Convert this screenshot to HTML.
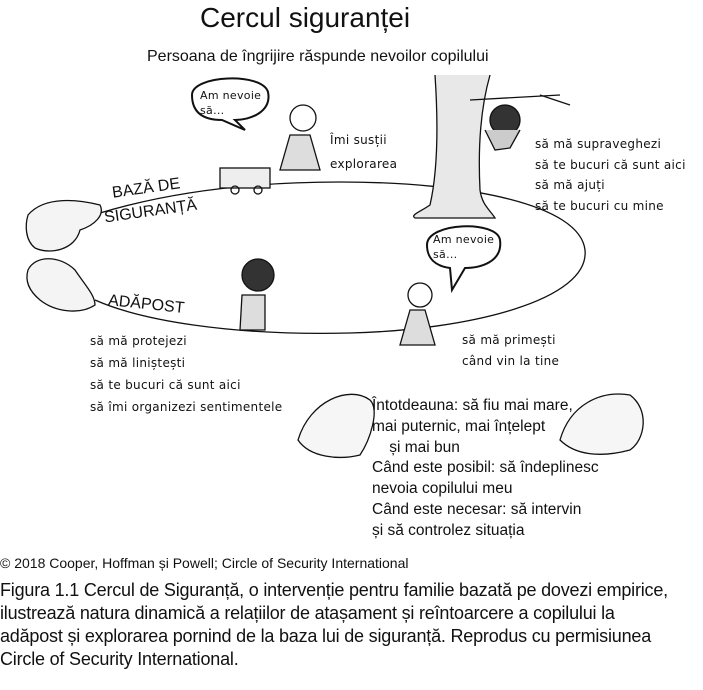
<!DOCTYPE html>
<html><head><meta charset="utf-8"><style>
body{margin:0;width:703px;height:690px;background:#fff;position:relative;overflow:hidden;font-family:"Liberation Sans",sans-serif;color:#111}
.t{position:absolute;white-space:nowrap}
.h{font-family:"DejaVu Sans",sans-serif;font-size:12px;letter-spacing:0.3px}
.b{font-size:15.5px;line-height:20.8px}
.cap{font-size:18px;line-height:23px;letter-spacing:-0.2px}
</style></head><body>
<svg width="703" height="690" style="position:absolute;left:0;top:0" fill="none" stroke="#111" stroke-width="1.3">
<path d="M100,213 C160,195 240,182 340,182 C470,182 580,205 585,250 C590,300 470,330 350,333 C230,336 140,320 95,300"/>
<path d="M28,215 C45,195 80,200 100,205 C105,215 95,225 80,230 C75,250 50,255 35,248 C25,240 25,225 28,215Z" fill="#f4f4f4"/>
<path d="M28,270 C35,255 60,255 75,270 C85,285 95,295 95,305 C80,315 55,312 40,300 C28,290 25,280 28,270Z" fill="#f4f4f4"/>
<path d="M298,440 C310,400 350,385 370,400 C380,410 370,440 360,455 C340,460 310,458 298,440Z" fill="#f6f6f6"/>
<path d="M560,440 C570,405 600,390 630,395 C650,410 645,440 630,450 C600,458 575,455 560,440Z" fill="#f6f6f6"/>
<path d="M435,75 C438,120 438,170 430,205 C420,212 410,215 415,218 L495,218 C490,210 482,205 480,190 C478,150 480,110 490,75" fill="#e8e8e8"/>
<path d="M470,100 L560,95 M540,95 L570,105"/>
<circle cx="505" cy="120" r="15" fill="#333"/>
<path d="M485,130 L495,150 L510,148 L520,130" fill="#ccc"/>
<circle cx="303" cy="118" r="13" fill="#fff"/>
<path d="M290,135 L280,170 L320,170 L310,135Z" fill="#ddd"/>
<rect x="220" y="168" width="50" height="20" fill="#eee"/>
<circle cx="235" cy="190" r="4"/><circle cx="258" cy="190" r="4"/>
<path d="M192,95 C192,75 262,72 268,92 C272,112 250,120 235,120 L245,130 L222,120 C200,120 192,110 192,95Z" fill="#fff" stroke-width="2"/>
<path d="M427,245 C427,222 497,220 500,240 C503,262 480,268 465,268 L452,290 L450,268 C435,266 427,258 427,245Z" fill="#fff" stroke-width="2"/>
<circle cx="258" cy="275" r="16" fill="#333"/>
<path d="M242,295 L240,330 L265,330 L265,295Z" fill="#ddd"/>
<circle cx="420" cy="295" r="12" fill="#fff"/>
<path d="M410,310 L400,345 L435,345 L425,310Z" fill="#ddd"/>
</svg>
<div class="t" style="left:200px;top:2px;font-size:28px">Cercul siguranței</div>
<div class="t" style="left:147px;top:48px;font-size:16px">Persoana de îngrijire răspunde nevoilor copilului</div>
<div class="t h" style="left:200px;top:88px;font-size:11px;line-height:15px">Am nevoie<br>să...</div>
<div class="t h" style="left:433px;top:232px;font-size:11px;line-height:15px">Am nevoie<br>să...</div>
<div class="t h" style="left:330px;top:128px;line-height:24px">Îmi susții<br>explorarea</div>
<div class="t h" style="left:535px;top:134px;line-height:20.5px">să mă supraveghezi<br>să te bucuri că sunt aici<br>să mă ajuți<br>să te bucuri cu mine</div>
<div class="t" style="left:112px;top:180px;font-size:16px;transform:rotate(-8deg)">BAZĂ DE</div>
<div class="t" style="left:104px;top:203px;font-size:16px;transform:rotate(-8deg)">SIGURANȚĂ</div>
<div class="t" style="left:108px;top:296px;font-size:16px;transform:rotate(6deg)">ADĂPOST</div>
<div class="t h" style="left:90px;top:330px;line-height:22px">să mă protejezi<br>să mă liniștești<br>să te bucuri că sunt aici<br>să îmi organizezi sentimentele</div>
<div class="t h" style="left:462px;top:330px;line-height:21px">să mă primești<br>când vin la tine</div>
<div class="t b" style="left:372px;top:396px">Întotdeauna: să fiu mai mare,<br>mai puternic, mai înțelept<br>&nbsp;&nbsp;&nbsp;&nbsp;și mai bun<br>Când este posibil: să îndeplinesc<br>nevoia copilului meu<br>Când este necesar: să intervin<br>și să controlez situația</div>
<div class="t" style="left:0;top:555px;font-size:14px">© 2018 Cooper, Hoffman și Powell; Circle of Security International</div>
<div class="t cap" style="left:0;top:579px">Figura 1.1 Cercul de Siguranță, o intervenție pentru familie bazată pe dovezi empirice,<br>ilustrează natura dinamică a relațiilor de atașament și reîntoarcere a copilului la<br>adăpost și explorarea pornind de la baza lui de siguranță. Reprodus cu permisiunea<br>Circle of Security International.</div>
</body></html>
